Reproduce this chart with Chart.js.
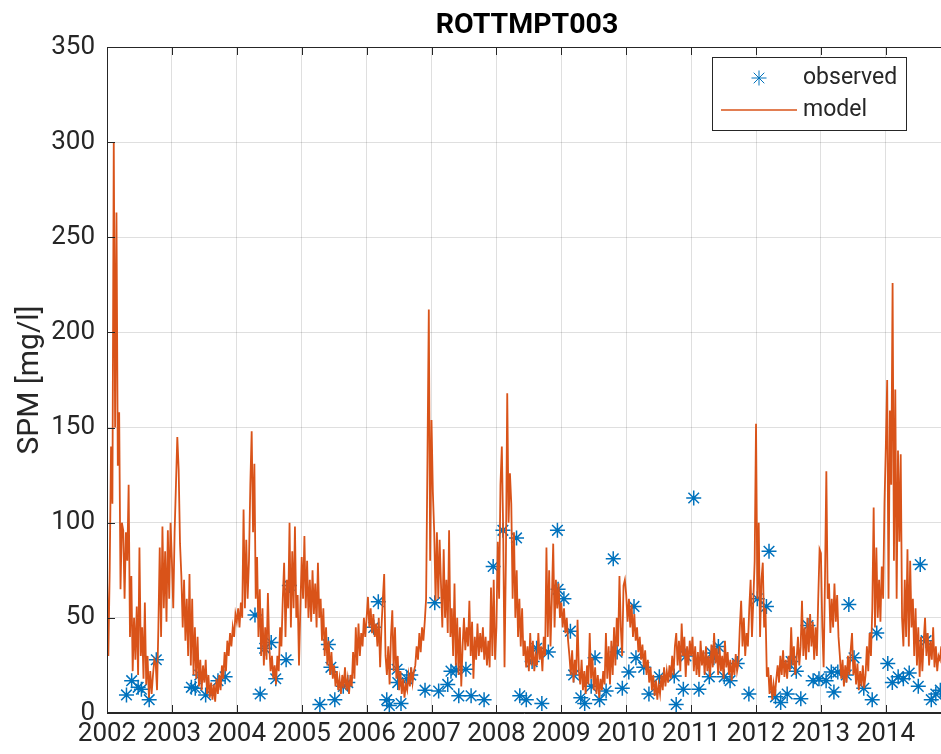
<!DOCTYPE html>
<html>
<head>
<meta charset="utf-8">
<title>ROTTMPT003</title>
<script src="https://cdn.jsdelivr.net/npm/chart.js@4.4.1/dist/chart.umd.min.js"></script>
<style>
  html, body { margin: 0; padding: 0; background: #ffffff; overflow: hidden; }
  canvas { display: block; }
</style>
</head>
<body>
<canvas id="spm" width="941" height="754"></canvas>
<script>
// Modelled SPM [mg/l], 48 samples per year (roughly weekly)
const model2002 = [72, 30, 75, 140, 110, 300, 150, 263, 130, 158, 65, 100, 96, 60, 95, 80, 120, 40, 72, 22, 50, 28, 56, 20, 87, 30, 45, 18, 58, 15, 30, 8, 22, 10, 20, 28, 26, 12, 45, 87, 40, 98, 55, 85, 48, 96, 60, 100];
const model2003 = [80, 55, 95, 120, 145, 128, 89, 72, 45, 70, 38, 60, 30, 73, 25, 60, 20, 45, 18, 40, 14, 28, 12, 25, 16, 28, 10, 20, 8, 16, 7, 15, 6, 18, 10, 20, 12, 25, 18, 32, 22, 38, 30, 42, 35, 45, 40, 52];
const model2004 = [48, 55, 45, 58, 50, 107, 55, 91, 60, 80, 120, 148, 95, 131, 60, 82, 40, 65, 30, 55, 25, 45, 28, 63, 35, 22, 30, 18, 25, 15, 30, 22, 45, 35, 60, 79, 40, 70, 55, 100, 45, 85, 55, 98, 50, 62, 25, 55];
const model2005 = [82, 60, 93, 55, 80, 50, 70, 48, 75, 52, 68, 45, 79, 50, 60, 38, 55, 30, 45, 25, 38, 20, 32, 18, 25, 14, 22, 12, 18, 10, 20, 13, 24, 12, 18, 10, 20, 14, 32, 18, 45, 25, 47, 30, 42, 35, 50, 40];
const model2006 = [50, 61, 45, 55, 42, 52, 40, 47, 35, 50, 24, 45, 60, 73, 30, 20, 35, 15, 40, 54, 22, 45, 18, 30, 12, 22, 10, 18, 8, 15, 12, 20, 14, 24, 16, 22, 25, 35, 28, 42, 32, 45, 38, 48, 60, 133, 212, 80];
const model2007 = [154, 116, 95, 59, 95, 60, 91, 68, 45, 86, 50, 70, 42, 96, 40, 55, 30, 68, 25, 50, 20, 45, 14, 35, 50, 33, 45, 35, 59, 30, 48, 18, 40, 28, 47, 30, 42, 32, 45, 28, 40, 25, 38, 24, 66, 30, 70, 28];
const model2008 = [45, 90, 60, 120, 140, 96, 24, 80, 168, 100, 126, 110, 60, 95, 50, 75, 40, 60, 35, 55, 30, 38, 24, 35, 22, 42, 25, 38, 22, 30, 25, 42, 28, 35, 22, 40, 30, 87, 40, 75, 35, 60, 89, 45, 70, 55, 68, 50];
const model2009 = [58, 45, 55, 42, 50, 38, 30, 20, 33, 16, 28, 20, 49, 22, 15, 28, 12, 22, 10, 25, 15, 42, 18, 29, 12, 24, 10, 20, 8, 18, 12, 22, 15, 42, 18, 35, 15, 38, 20, 45, 25, 50, 35, 72, 45, 30, 67, 70];
const model2010 = [62, 48, 60, 45, 57, 40, 52, 38, 45, 32, 40, 28, 36, 24, 33, 20, 28, 16, 24, 12, 20, 9, 17, 7, 15, 10, 20, 12, 24, 14, 22, 16, 25, 18, 30, 20, 35, 42, 25, 38, 22, 47, 30, 40, 19, 35, 25, 38];
const model2011 = [30, 40, 22, 35, 20, 32, 19, 38, 25, 33, 20, 35, 22, 30, 19, 36, 24, 42, 26, 34, 20, 35, 22, 30, 18, 38, 24, 32, 20, 28, 17, 28, 20, 31, 22, 26, 45, 59, 35, 50, 30, 42, 35, 55, 70, 40, 59, 80];
const model2012 = [152, 60, 100, 40, 70, 79, 45, 55, 19, 24, 10, 20, 7, 15, 9, 18, 25, 16, 30, 20, 33, 19, 28, 18, 30, 22, 45, 25, 35, 20, 28, 40, 25, 35, 59, 30, 45, 28, 50, 32, 52, 35, 48, 28, 45, 30, 60, 86];
const model2013 = [84, 45, 24, 70, 127, 60, 68, 42, 60, 45, 68, 48, 62, 40, 30, 18, 28, 14, 25, 16, 30, 20, 33, 42, 20, 28, 15, 26, 12, 22, 14, 25, 13, 20, 35, 22, 42, 30, 55, 108, 45, 87, 50, 70, 48, 77, 60, 110];
const model2014 = [140, 175, 60, 159, 120, 226, 80, 170, 60, 138, 90, 136, 50, 35, 70, 40, 86, 35, 80, 45, 60, 30, 55, 25, 45, 19, 40, 22, 38, 50, 30, 42, 25, 38, 28, 45, 24, 35, 22, 30, 28, 35, 30, 38, 32, 40];

const modelYears = [2002, 2003, 2004, 2005, 2006, 2007, 2008, 2009, 2010, 2011, 2012, 2013, 2014];
const modelSeries = [model2002, model2003, model2004, model2005, model2006, model2007,
                     model2008, model2009, model2010, model2011, model2012, model2013, model2014];
const samplesPerYear = 48;

// Observed SPM samples: decimal date and value [mg/l]
const obsDate = [
  2002.30, 2002.38, 2002.48, 2002.53, 2002.65, 2002.76,
  2003.30, 2003.36, 2003.43, 2003.52, 2003.71, 2003.82,
  2004.28, 2004.36, 2004.43, 2004.53, 2004.60, 2004.76, 2004.81,
  2005.28, 2005.41, 2005.45, 2005.51, 2005.64, 2005.71,
  2006.11, 2006.18, 2006.31, 2006.35, 2006.47, 2006.48, 2006.53, 2006.62, 2006.68, 2006.90,
  2007.05, 2007.11, 2007.25, 2007.30, 2007.38, 2007.42, 2007.53, 2007.61, 2007.81, 2007.95,
  2008.10, 2008.31, 2008.36, 2008.46, 2008.55, 2008.62, 2008.70, 2008.80, 2008.94, 2008.95,
  2009.04, 2009.14, 2009.19, 2009.30, 2009.36, 2009.46, 2009.52, 2009.59, 2009.69, 2009.80, 2009.86, 2009.94,
  2010.04, 2010.12, 2010.15, 2010.27, 2010.35, 2010.51, 2010.74, 2010.77, 2010.88, 2010.92,
  2011.04, 2011.12, 2011.28, 2011.32, 2011.35, 2011.42, 2011.51, 2011.60, 2011.71, 2011.89,
  2012.02, 2012.16, 2012.20, 2012.30, 2012.38, 2012.48, 2012.54, 2012.62, 2012.69, 2012.80, 2012.88, 2012.97,
  2013.08, 2013.16, 2013.20, 2013.26, 2013.39, 2013.43, 2013.51, 2013.66, 2013.79, 2013.86,
  2014.03, 2014.10, 2014.19, 2014.27, 2014.36, 2014.50, 2014.53, 2014.62, 2014.70, 2014.77, 2014.84
];
const obsValue = [
  9.5, 17, 13.5, 12.5, 7, 28,
  13.5, 13, 20, 9.5, 17, 19,
  51.5, 10, 34, 37, 18, 28, 67,
  4.5, 36, 24, 7, 14, 16,
  45, 58.5, 7, 4, 23, 16, 5, 18, 20, 12,
  58, 11.5, 15, 22, 22.5, 9, 23, 9, 7, 77,
  96, 92, 9, 7, 27, 34, 5, 32, 96, 65,
  60, 43, 20, 8, 5, 14, 29, 7, 11.5, 81, 32, 13,
  21.5, 56, 29, 24, 10, 19, 19.5, 4.5, 12.5, 30,
  113, 12.5, 19, 31.5, 29, 35, 19, 17, 26, 10,
  60, 56, 85, 8.5, 5.5, 10, 27, 22, 7.5, 46, 17, 18,
  17, 21.5, 11, 21.5, 20, 57, 29, 13, 7, 42,
  26, 16, 19, 18, 21, 14, 78, 38, 7, 10, 12
];

const chartTitle = 'ROTTMPT003';
const yLabel = 'SPM [mg/l]';
const seriesNames = ['observed', 'model'];

// ---- build point lists ----
const modelPoints = [];
modelSeries.forEach((vals, k) => {
  vals.forEach((v, j) => modelPoints.push({ x: modelYears[k] + j / samplesPerYear, y: v }));
});
const obsPoints = obsDate.map((d, i) => ({ x: d, y: obsValue[i] }));

const AXIS = '#262626';
const GRID = 'rgba(38,38,38,0.15)';
const BLUE = '#0072BD';
const ORANGE = '#D95319';
const FONT = 'Roboto, "Liberation Sans", Arial, sans-serif';

Chart.defaults.font.family = FONT;
Chart.defaults.color = AXIS;

// Title above the axes (the axes run on past the right edge of the canvas)
const titlePlugin = {
  id: 'plotTitle',
  afterDraw(chart) {
    const { ctx } = chart;
    ctx.save();
    ctx.font = 'bold 28.5px ' + FONT;
    ctx.fillStyle = '#000000';
    ctx.textAlign = 'center';
    ctx.textBaseline = 'middle';
    ctx.fillText(chartTitle, 527, 26);
    ctx.restore();
  }
};

// Axis box with inward tick marks
const axisBox = {
  id: 'axisBox',
  afterDraw(chart) {
    const { ctx, chartArea: a, scales: { x, y } } = chart;
    const len = 8;
    ctx.save();
    ctx.strokeStyle = AXIS;
    ctx.lineWidth = 1;
    ctx.beginPath();
    ctx.moveTo(a.left, a.top + 0.5); ctx.lineTo(a.right, a.top + 0.5);
    ctx.moveTo(a.left + 0.5, a.top); ctx.lineTo(a.left + 0.5, a.bottom);
    ctx.moveTo(a.left, a.bottom - 0.5); ctx.lineTo(a.right, a.bottom - 0.5);
    x.ticks.forEach(t => {
      const px = Math.round(x.getPixelForValue(t.value)) + 0.5;
      ctx.moveTo(px, a.bottom); ctx.lineTo(px, a.bottom - len);
      ctx.moveTo(px, a.top); ctx.lineTo(px, a.top + len);
    });
    y.ticks.forEach(t => {
      const py = Math.round(y.getPixelForValue(t.value)) + 0.5;
      ctx.moveTo(a.left, py); ctx.lineTo(a.left + len, py);
    });
    ctx.stroke();
    ctx.restore();
  }
};

// Boxed legend in the upper right
const boxLegend = {
  id: 'boxLegend',
  afterDraw(chart) {
    const { ctx } = chart;
    const ds = chart.data.datasets;
    const box = { left: 712, top: 57, width: 194, height: 73 };
    ctx.save();
    ctx.fillStyle = '#ffffff';
    ctx.fillRect(box.left, box.top, box.width, box.height);
    ctx.strokeStyle = AXIS;
    ctx.lineWidth = 1;
    ctx.strokeRect(box.left + 0.5, box.top + 0.5, box.width, box.height);

    // observed: star marker
    const rowA = box.top + 21, rowB = box.top + 53;
    ctx.strokeStyle = ds[0].borderColor;
    Chart.helpers.drawPoint(ctx, { pointStyle: 'star', radius: 7.5, rotation: 0, borderWidth: 1.5 }, 759, rowA);
    // model: line sample
    ctx.beginPath();
    ctx.strokeStyle = ds[1].borderColor;
    ctx.lineWidth = 1.5;
    ctx.moveTo(721, rowB); ctx.lineTo(797, rowB);
    ctx.stroke();

    ctx.fillStyle = AXIS;
    ctx.font = '23px ' + FONT;
    ctx.textAlign = 'left';
    ctx.textBaseline = 'middle';
    ctx.fillText(ds[0].label, 803, rowA);
    ctx.fillText(ds[1].label, 803, rowB);
    ctx.restore();
  }
};

new Chart(document.getElementById('spm'), {
  type: 'scatter',
  data: {
    datasets: [
      {
        label: seriesNames[0],
        data: obsPoints,
        showLine: false,
        pointStyle: 'star',
        pointRadius: 7.5,
        pointBorderWidth: 1.5,
        pointBorderColor: BLUE,
        pointBackgroundColor: BLUE,
        borderColor: BLUE,
        backgroundColor: BLUE,
        order: 1,
        clip: false
      },
      {
        label: seriesNames[1],
        data: modelPoints,
        showLine: true,
        borderColor: ORANGE,
        backgroundColor: ORANGE,
        borderWidth: 1.8,
        pointRadius: 0,
        tension: 0,
        fill: false,
        order: 0
      }
    ]
  },
  options: {
    responsive: false,
    devicePixelRatio: 1,
    animation: false,
    events: [],
    layout: { autoPadding: false, padding: { top: 47, left: 0, right: 0, bottom: 0 } },
    plugins: {
      legend: { display: false },
      title: { display: false },
      tooltip: { enabled: false }
    },
    scales: {
      x: {
        type: 'linear',
        min: 2002,
        max: 2014.85,
        afterBuildTicks: s => { s.ticks = s.ticks.filter(t => Number.isInteger(t.value)); },
        afterFit: s => { s.height = 41; s.paddingLeft = 0; s.paddingRight = 0; },
        ticks: {
          stepSize: 1,
          includeBounds: false,
          autoSkip: false,
          maxRotation: 0,
          minRotation: 0,
          padding: 6,
          color: AXIS,
          font: { size: 26 },
          callback: v => String(v)
        },
        grid: { color: GRID, drawTicks: false, lineWidth: 1 },
        border: { display: true, color: AXIS, width: 1 }
      },
      y: {
        type: 'linear',
        min: 0,
        max: 350,
        afterFit: s => { s.width = 107; s.paddingTop = 0; s.paddingBottom = 0; },
        ticks: {
          stepSize: 50,
          padding: 12,
          color: AXIS,
          font: { size: 26 }
        },
        grid: { color: GRID, drawTicks: false, lineWidth: 1 },
        border: { display: true, color: AXIS, width: 1 },
        title: {
          display: true,
          text: yLabel,
          color: AXIS,
          font: { size: 30 },
          padding: { top: 12, bottom: 0 }
        }
      }
    }
  },
  plugins: [titlePlugin, axisBox, boxLegend]
});
</script>
</body>
</html>
